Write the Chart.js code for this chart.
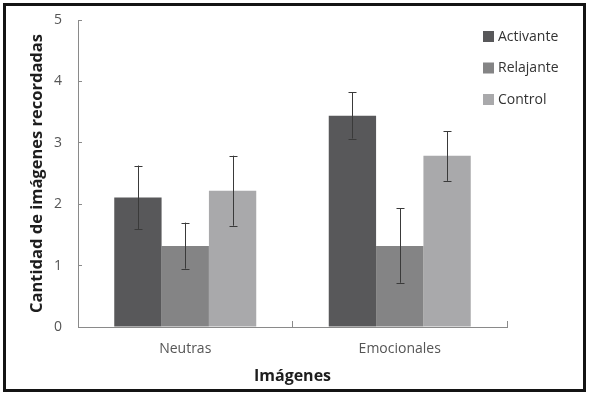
<!DOCTYPE html>
<html>
<head>
<meta charset="utf-8">
<script src="https://cdn.jsdelivr.net/npm/chart.js@4/dist/chart.umd.min.js"></script>
<style>
  html, body { margin: 0; padding: 0; background: #fff; }
  #wrap { position: relative; width: 589px; height: 396px; }
  #wrap canvas { position: absolute; left: 0; top: 0; }
  #frame { position: absolute; left: 3px; top: 3px; width: 577px; height: 383px;
           border: 3px solid #141414; pointer-events: none; }
</style>
</head>
<body>
<div id="wrap">
  <canvas id="chart" width="589" height="396"></canvas>
  <div id="frame"></div>
</div>
<script>
// data
const categories = ["Neutras", "Emocionales"];
const seriesNames = ["Activante", "Relajante", "Control"];
const activante = [2.11, 3.44];
const relajante = [1.32, 1.32];
const control   = [2.22, 2.79];
const activanteLow  = [1.59, 3.07];
const activanteHigh = [2.63, 3.82];
const relajanteLow  = [0.95, 0.72];
const relajanteHigh = [1.70, 1.93];
const controlLow    = [1.65, 2.38];
const controlHigh   = [2.79, 3.19];
const yTicks = [0, 1, 2, 3, 4, 5];

const colors = ["#58585a", "#848485", "#a9a9ab"];
const FONT = "'Open Sans', 'DejaVu Sans', sans-serif";

// whiskers drawn through the scales
const errorBars = {
  id: "errorBars",
  afterDatasetsDraw(chart) {
    const ctx = chart.ctx;
    const y = chart.scales.y;
    ctx.save();
    ctx.strokeStyle = "#3a3a3a";
    ctx.lineWidth = 1;
    chart.data.datasets.forEach((ds, i) => {
      const meta = chart.getDatasetMeta(i);
      meta.data.forEach((bar, j) => {
        const x = Math.round(bar.x) + 0.5;
        const lo = y.getPixelForValue(ds.errLow[j]);
        const hi = y.getPixelForValue(ds.errHigh[j]);
        ctx.beginPath();
        ctx.moveTo(x, lo); ctx.lineTo(x, hi);
        ctx.moveTo(x - 4, Math.round(lo) + 0.5); ctx.lineTo(x + 4, Math.round(lo) + 0.5);
        ctx.moveTo(x - 4, Math.round(hi) + 0.5); ctx.lineTo(x + 4, Math.round(hi) + 0.5);
        ctx.stroke();
      });
    });
    ctx.restore();
  }
};

// legend sits in the upper right, over the plot area
const cornerLegend = {
  id: "cornerLegend",
  afterDraw(chart) {
    const ctx = chart.ctx;
    const area = chart.chartArea;
    ctx.save();
    ctx.font = "14px " + FONT;
    ctx.textBaseline = "middle";
    chart.data.datasets.forEach((ds, i) => {
      const cy = area.top + 16 + i * 31.5;
      const sx = area.right - 24;
      ctx.fillStyle = ds.backgroundColor;
      ctx.fillRect(sx, cy - 5, 11, 11);
      ctx.fillStyle = "#333";
      ctx.fillText(ds.label, sx + 15, cy + 1);
    });
    ctx.restore();
  }
};

const lows = [activanteLow, relajanteLow, controlLow];
const highs = [activanteHigh, relajanteHigh, controlHigh];

new Chart(document.getElementById("chart"), {
  type: "bar",
  data: {
    labels: categories,
    datasets: [activante, relajante, control].map((vals, i) => ({
      label: seriesNames[i],
      data: vals,
      backgroundColor: colors[i],
      borderWidth: 0,
      errLow: lows[i],
      errHigh: highs[i]
    }))
  },
  options: {
    responsive: false,
    animation: false,
    devicePixelRatio: 1,
    layout: { padding: { left: 0, right: 82, top: 20, bottom: 0 } },
    datasets: { bar: { categoryPercentage: 0.662, barPercentage: 1 } },
    plugins: { legend: { display: false }, tooltip: { enabled: false } },
    scales: {
      x: {
        grid: { drawOnChartArea: false, tickLength: -6, color: "#8a8a8a", offset: true },
        border: { color: "#8a8a8a", width: 1 },
        ticks: { color: "#555", font: { family: FONT, size: 14 }, padding: 20 },
        title: { display: true, text: "Imágenes", color: "#1e1e1e",
                 font: { family: FONT, size: 16, weight: "bold" }, padding: { top: 0, bottom: 10 } },
        afterFit(scale) { scale.height = 69; scale.paddingLeft = 0; scale.paddingRight = 0; }
      },
      y: {
        min: 0, max: 5,
        afterBuildTicks(scale) { scale.ticks = yTicks.map(v => ({ value: v })); },
        grid: { drawOnChartArea: false, tickLength: -4, color: "#8a8a8a" },
        border: { color: "#8a8a8a", width: 1 },
        ticks: { color: "#555", font: { family: FONT, size: 14 }, padding: 20 },
        title: { display: true, text: "Cantidad de imágenes recordadas", color: "#1e1e1e",
                 font: { family: FONT, size: 16.5, weight: "bold" }, padding: { top: 27, bottom: 0 } },
        afterFit(scale) { scale.width = 78; scale.paddingTop = 0; scale.paddingBottom = 0; }
      }
    }
  },
  plugins: [errorBars, cornerLegend]
});
</script>
</body>
</html>
